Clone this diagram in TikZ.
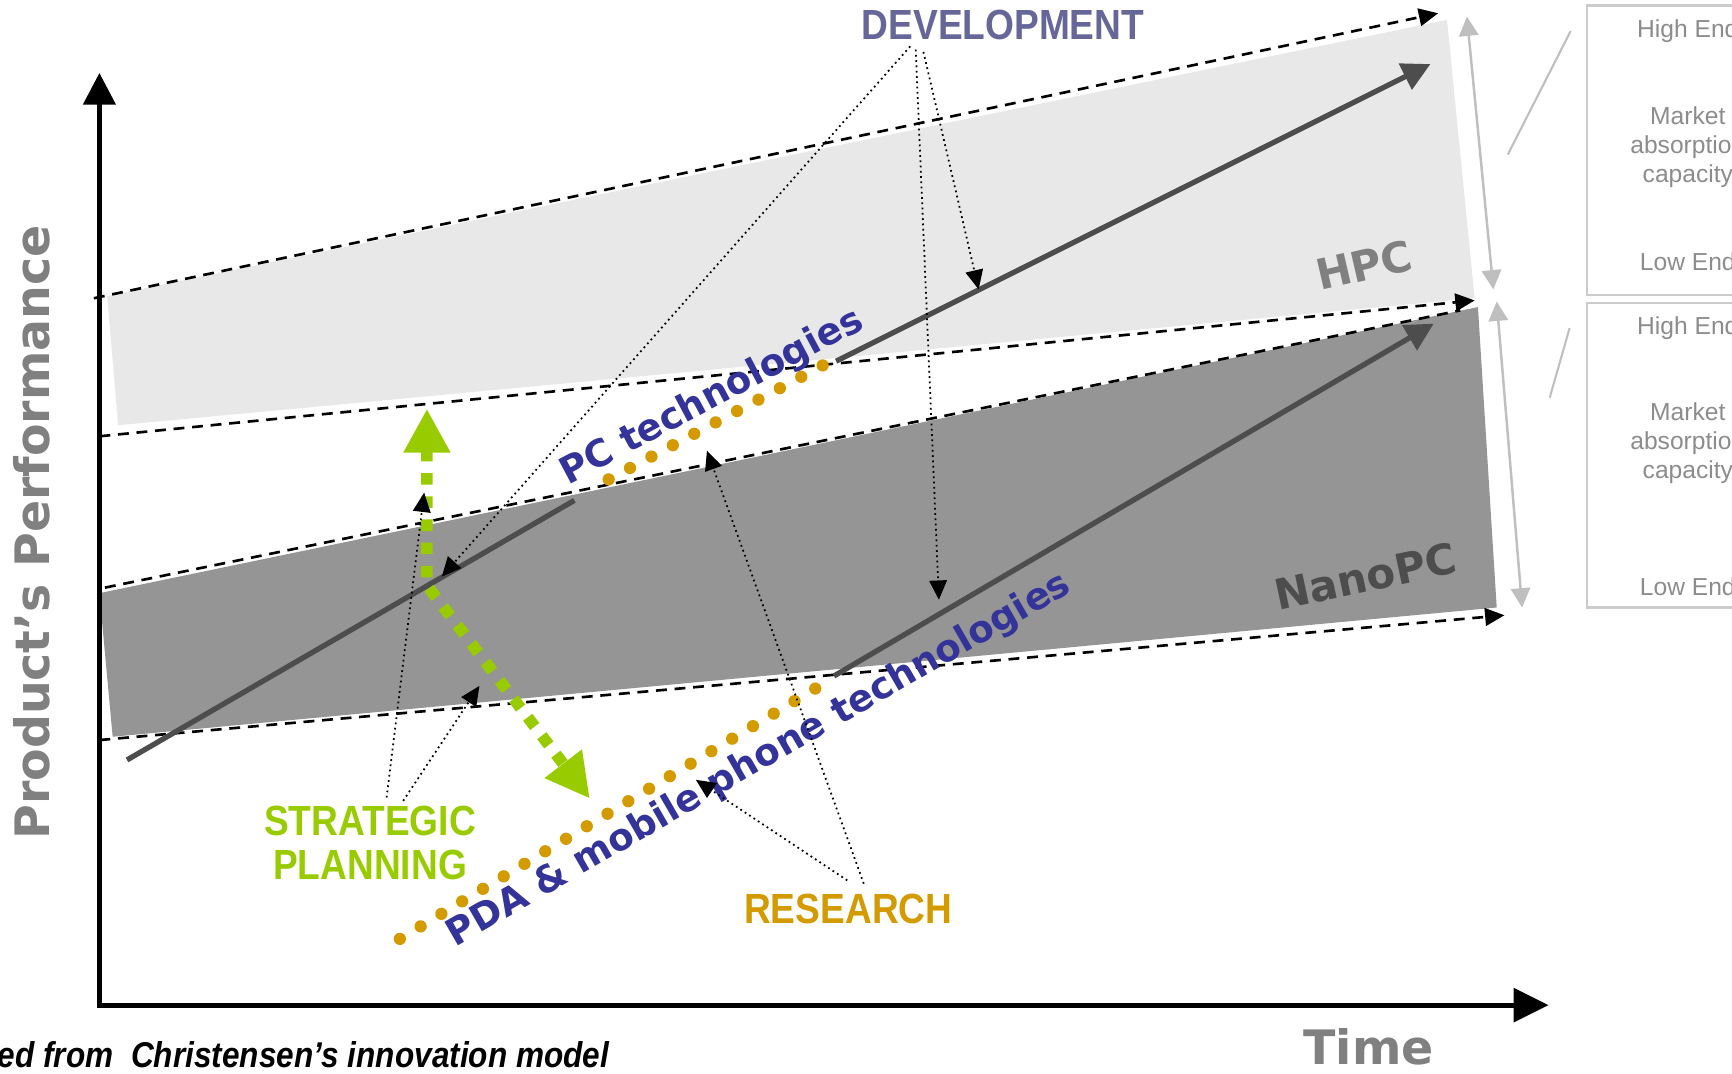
\documentclass[tikz,border=0pt]{standalone}
\usepackage{fontspec}
\setmainfont{DejaVu Sans}
\newfontfamily\arialfont{Liberation Sans}
\newfontfamily\narrowfont[FakeStretch=0.88]{Liberation Sans}
\usepackage{tikz}
\usetikzlibrary{arrows.meta, positioning, calc}

\definecolor{bandlight}{HTML}{E8E8E8}
\definecolor{banddark}{HTML}{959595}
\definecolor{trajgray}{HTML}{4D4D4D}
\definecolor{techblue}{HTML}{333399}
\definecolor{resorange}{HTML}{D49B00}
\definecolor{plangreen}{HTML}{99CC00}
\definecolor{devblue}{HTML}{666699}
\definecolor{labelgray}{HTML}{808080}
\definecolor{sidegray}{HTML}{BFBFBF}
\definecolor{sidetext}{HTML}{8C8C8C}

\tikzset{
  limit/.style={line width=0.75pt, dash pattern=on 3.1pt off 2.2pt, -{Triangle[length=5.5pt,width=5pt]}},
  traj/.style={trajgray, line width=1.5pt},
  techdots/.style={resorange, line width=3.5pt, line cap=round, dash pattern=on 0pt off 6.9pt},
  link/.style={line width=0.5pt, densely dotted, -{Triangle[length=5.5pt,width=5pt]}},
  sidenote/.style={font=\arialfont\fontsize{7}{8.2}\selectfont, text=sidetext, align=center, inner sep=0pt},
}

\begin{document}
\begin{tikzpicture}[x=0.011046cm, y=-0.011046cm]
  \useasboundingbox (0,0) rectangle (1568,972);
  \clip (0,0) rectangle (1568,972);

  % Market bands
  \fill[bandlight] (97,268) -- (1310,18) -- (1335,270) -- (107,385) -- cycle;
  \fill[banddark] (90,537) -- (1338,278) -- (1355,550) -- (102,667) -- cycle;

  % Dashed market limits
  \coordinate (hpctop0) at (85,270);   \coordinate (hpctop1) at (1302,12);
  \coordinate (hpclow0) at (90,395);   \coordinate (hpclow1) at (1335,272);
  \coordinate (nanotop0) at (95,532);  \coordinate (nanotop1) at (1322,281);
  \coordinate (nanolow0) at (90,670);  \coordinate (nanolow1) at (1362,557);
  \draw[limit] (hpctop0) -- (hpctop1);
  \draw[limit] (hpclow0) -- (hpclow1);
  \draw[limit, -] (nanotop0) -- (nanotop1);
  \draw[limit] (nanolow0) -- (nanolow1);

  % Axes
  \coordinate (origin) at (90,910);
  \coordinate (ytip) at (90,66);
  \coordinate (xtip) at (1402,910);
  \draw[line width=1.5pt, {Triangle[length=9pt,width=9pt]}-{Triangle[length=10pt,width=9.5pt]}]
    (ytip) -- (origin) -- (xtip);
  \node[font=\fontsize{13.5}{16}\selectfont\bfseries, text=labelgray, rotate=90, anchor=base] (perf) at (45,482) {Product’s Performance};
  \node[font=\fontsize{13.5}{16}\selectfont\bfseries, text=labelgray, anchor=base] (time) at (1239,964) {Time};

  % Technology trajectories
  \coordinate (pc0) at (115,688);   \coordinate (pc1) at (520,453);
  \coordinate (pcd0) at (551,434);  \coordinate (pcd1) at (752,327);
  \coordinate (pc2) at (757,327);   \coordinate (pc3) at (1295,58);
  \coordinate (pda0) at (362,850);  \coordinate (pda1) at (752,615);
  \coordinate (pda2) at (755,612);  \coordinate (pda3) at (1298,293);
  \draw[traj] (pc0) -- (pc1);
  \draw[techdots] (pcd0) -- (pcd1);
  \draw[traj, -{Triangle[length=8pt,width=8pt]}] (pc2) -- (pc3);
  \draw[techdots] (pda0) -- (pda1);
  \draw[traj, -{Triangle[length=8pt,width=8pt]}] (pda2) -- (pda3);

  \node[font=\fontsize{10.6}{12}\selectfont\bfseries, text=techblue, rotate=28, anchor=base west, inner sep=0pt] (pctext) at (514,440) {PC technologies};
  \node[font=\fontsize{10.6}{12}\selectfont\bfseries, text=techblue, rotate=30, anchor=base west, inner sep=0pt] (pdatext) at (412,858) {PDA \& mobile phone technologies};
  \node[font=\fontsize{12}{14}\selectfont\bfseries, text=labelgray, rotate=13] (hpc) at (1235,240) {HPC};
  \node[font=\fontsize{12}{14}\selectfont\bfseries, text=trajgray, rotate=12] (nanopc) at (1236,522) {NanoPC};

  % Strategic planning arrow
  \coordinate (planA) at (386.5,370);
  \coordinate (planB) at (386.5,530);
  \coordinate (planC) at (534,723);
  \draw[plangreen, line width=3.3pt, dash pattern=on 3.3pt off 3.3pt,
        {Triangle[length=12.5pt,width=12.5pt]}-{Triangle[length=12.5pt,width=12.5pt]}]
    (planA) -- (planB) -- (planC);

  % Labels and their pointers
  \node[font=\narrowfont\fontsize{12}{14}\selectfont\bfseries, text=devblue, anchor=base] (dev) at (908,36) {DEVELOPMENT};
  \node[font=\narrowfont\fontsize{12}{12.6}\selectfont\bfseries, text=plangreen, align=center, inner sep=0pt] (strat) at (335,763) {STRATEGIC\\PLANNING};
  \node[font=\narrowfont\fontsize{12}{14}\selectfont\bfseries, text=resorange, anchor=base] (res) at (768,836) {RESEARCH};

  \coordinate (devA) at (824,42);  \coordinate (devB) at (829,45);  \coordinate (devC) at (836,47);
  \coordinate (hpcpt) at (886,262); \coordinate (pcpt) at (400,522); \coordinate (pdapt) at (850,543);
  \draw[link] (devA) -- (pcpt);
  \draw[link] (devB) -- (pdapt);
  \draw[link] (devC) -- (hpcpt);

  \coordinate (resA) at (767,797); \coordinate (resB) at (782,800);
  \coordinate (pdadot) at (630,706); \coordinate (pcdot) at (640,408);
  \draw[link] (resA) -- (pdadot);
  \draw[link] (resB) -- (pcdot);

  \coordinate (stratA) at (350,722); \coordinate (stratB) at (365,725);
  \coordinate (planup) at (384,446); \coordinate (plandown) at (434,621);
  \draw[link] (stratA) -- (planup);
  \draw[link] (stratB) -- (plandown);

  % Market absorption capacity
  \coordinate (hpcspanA) at (1328,15);  \coordinate (hpcspanB) at (1352,262);
  \coordinate (nanospanA) at (1355,273); \coordinate (nanospanB) at (1378,550);
  \draw[sidegray, line width=0.7pt, {Triangle[length=5.5pt,width=5.5pt]}-{Triangle[length=5.5pt,width=5.5pt]}] (hpcspanA) -- (hpcspanB);
  \draw[sidegray, line width=0.7pt, {Triangle[length=5.5pt,width=5.5pt]}-{Triangle[length=5.5pt,width=5.5pt]}] (nanospanA) -- (nanospanB);
  \coordinate (slashA0) at (1422,28);  \coordinate (slashA1) at (1365,140);
  \coordinate (slashB0) at (1421,297); \coordinate (slashB1) at (1403,360);
  \draw[sidegray, line width=0.6pt] (slashA0) -- (slashA1);
  \draw[sidegray, line width=0.6pt] (slashB0) -- (slashB1);
  \draw[sidegray!80, line width=0.6pt] (1437,5) rectangle (1620,267);
  \draw[sidegray!80, line width=0.6pt] (1437,274) rectangle (1620,550);

  \node[sidenote] (hiA) at (1528,28) {High End};
  \node[sidenote] (mkA) at (1528,133) {Market\\absorption\\capacity};
  \node[sidenote] (loA) at (1528,237) {Low End};
  \node[sidenote] (hiB) at (1528,297) {High End};
  \node[sidenote] (mkB) at (1528,401) {Market\\absorption\\capacity};
  \node[sidenote] (loB) at (1528,531) {Low End};

  % Source note
  \node[font=\narrowfont\fontsize{10.2}{12}\selectfont\bfseries\itshape, anchor=base east, inner sep=0pt] (source) at (552,966) {ed from~~Christensen’s innovation model};
\end{tikzpicture}
\end{document}
